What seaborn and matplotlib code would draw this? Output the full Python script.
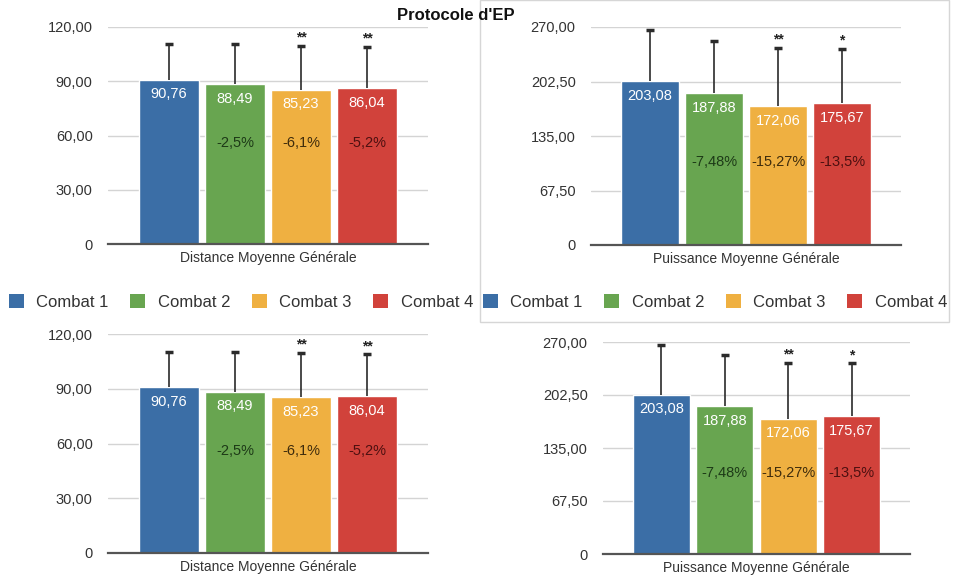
import matplotlib
matplotlib.use("Agg")
import matplotlib.pyplot as plt
from matplotlib.patches import Patch, Rectangle
import seaborn as sns
import pandas as pd

sns.set_theme(style="white")
plt.rcParams["font.family"] = ["Liberation Sans", "DejaVu Sans"]

# ---- data ----
combats = ["Combat 1", "Combat 2", "Combat 3", "Combat 4"]
colors = ["#3b6ea6", "#68a550", "#efb041", "#d1423b"]
pct_colors = ["#1d3a17", "#1d3a17", "#3f2c0c", "#4d1010"]

distance_mean = [90.76, 88.49, 85.23, 86.04]
distance_sd = [19.6, 21.9, 24.3, 22.8]
distance_pct = ["", "-2,5%", "-6,1%", "-5,2%"]
distance_sig = ["", "", "**", "**"]
distance_ticks = [0, 30, 60, 90, 120]
distance_ticklabels = ["0", "30,00", "60,00", "90,00", "120,00"]

power_mean = [203.08, 187.88, 172.06, 175.67]
power_sd = [63.2, 65.1, 71.5, 67.1]
power_pct = ["", "-7,48%", "-15,27%", "-13,5%"]
power_sig = ["", "", "**", "*"]
power_ticks = [0, 67.5, 135, 202.5, 270]
power_ticklabels = ["0", "67,50", "135,00", "202,50", "270,00"]

W, H = 956, 576
fig = plt.figure(figsize=(W / 100, H / 100), dpi=100)


def add_ax(l, t, r, b):
    return fig.add_axes([l / W, 1 - b / H, (r - l) / W, (b - t) / H])


def fmt(v):
    return f"{v:.2f}".replace(".", ",")


def panel(ax, means, sds, pcts, sigs, ticks, ticklabels, xlabel, pct_frac):
    df = pd.DataFrame({"combat": combats, "value": means})
    sns.barplot(data=df, x="combat", y="value", hue="combat", palette=colors,
                width=0.9, ax=ax, legend=False, saturation=1, zorder=2)
    xs = list(range(len(means)))
    # upper standard deviation only: hide the cap drawn at the bar top
    eb = ax.errorbar(xs, means, yerr=[[0] * len(sds), sds], fmt="none",
                     ecolor="#2b2b2b", elinewidth=1.2, capsize=3, capthick=2.5, zorder=3)
    eb[1][0].set_visible(False)
    ymax = ticks[-1]
    ax.set_ylim(0, ymax)
    ax.set_xlim(-0.92, 3.92)
    ax.set_yticks(ticks)
    ax.set_yticklabels(ticklabels)
    ax.tick_params(axis="y", length=0, pad=11, labelsize=10.5, labelcolor="#333333")
    ax.set_xticks([])
    ax.set_ylabel("")
    ax.set_xlabel(xlabel, fontsize=10, color="#333333", labelpad=5)
    ax.grid(axis="y", color="#d4d4d4", linewidth=1.0, zorder=0)
    ax.set_axisbelow(True)
    for s in ["left", "right", "top"]:
        ax.spines[s].set_visible(False)
    ax.spines["bottom"].set_color("#555555")
    ax.spines["bottom"].set_linewidth(1.6)
    ax.spines["bottom"].set_zorder(4)
    for x, m, sd, p, sg, pc in zip(xs, means, sds, pcts, sigs, pct_colors):
        ax.annotate(fmt(m), (x, m), xytext=(0, -10.5), textcoords="offset points",
                    ha="center", va="center", color="white", fontsize=10.5, zorder=5)
        if p:
            ax.text(x, pct_frac * ymax, p, ha="center", va="center",
                    color=pc, fontsize=10.5, zorder=5)
        if sg:
            ax.annotate(sg, (x, m + sd), xytext=(0, 1), textcoords="offset points",
                        ha="center", va="bottom", color="#222222", fontsize=10,
                        fontweight="bold", zorder=5)


for (l, t, r, b), kind in [((108, 27, 428, 244), "d"), ((591, 27, 901, 245), "p"),
                           ((108, 334, 428, 553), "d"), ((603, 342, 910, 554), "p")]:
    ax = add_ax(l, t, r, b)
    if kind == "d":
        panel(ax, distance_mean, distance_sd, distance_pct, distance_sig,
              distance_ticks, distance_ticklabels, "Distance Moyenne Générale", 0.465)
    else:
        panel(ax, power_mean, power_sd, power_pct, power_sig,
              power_ticks, power_ticklabels, "Puissance Moyenne Générale", 0.381)

# frame around the upper right chart
fig.patches.append(Rectangle((480 / W, 1 - 322 / H), 469 / W, 322 / H,
                             transform=fig.transFigure, fill=False,
                             edgecolor="#d6d6d6", linewidth=1.0, zorder=0))

fig.text(456 / W, 1 - 15 / H, "Protocole d'EP", ha="center", va="center",
         fontsize=12, fontweight="bold", color="#111111")

handles = [Patch(facecolor=c, edgecolor="none", label=n) for c, n in zip(colors, combats)]
for cx in (241, 715):
    fig.legend(handles=handles, loc="center", bbox_to_anchor=(cx / W, 1 - 302 / H),
               ncol=4, frameon=False, fontsize=12, handlelength=0.9, handleheight=0.9,
               handletextpad=0.75, columnspacing=1.3, labelcolor="#333333")

fig.savefig("out.png", dpi=100)
